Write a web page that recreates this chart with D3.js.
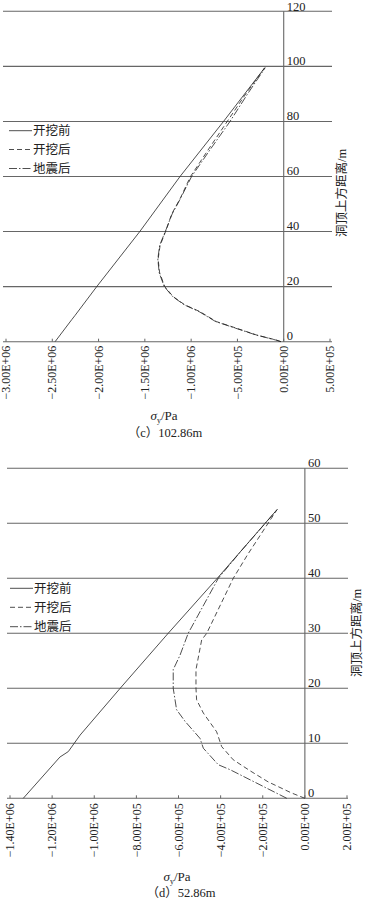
<!DOCTYPE html>
<meta charset="utf-8">
<script src="https://d3js.org/d3.v7.min.js"></script>
<style>
  body { margin: 0; background: #fff; }
  text { font-family: "Liberation Serif", "Noto Sans CJK SC", serif; fill: #222; }
</style>
<div id="my_dataviz"></div>
<script>

// ---- data: [depth above crown (m), sigma_y (Pa)] ----

// (c) 102.86m
var c_before = [[0,-2.47e6],[8,-2.29e6],[9.5,-2.255e6],[20,-2.02e6],[40,-1.555e6],[60,-1.12e6],[80,-6.5e5],[99.5,-2.05e5]]
var c_after = [[0,-3e4],[0.6,-7.9e4],[2.45,-2.95e5],[4.9,-5.1e5],[7.3,-7.27e5],[10.95,-9.07e5],[13.4,-1.069e6],[16.4,-1.195e6],
  [20,-1.285e6],[25,-1.34e6],[30,-1.357e6],[35,-1.335e6],[40.8,-1.267e6],[46.4,-1.21e6],[51.7,-1.123e6],[60,-1.007e6],
  [70,-8.1e5],[80,-6.1e5],[90,-4.1e5],[99.5,-2.05e5]]
var c_quake = [[0,-3e4],[0.6,-8.5e4],[2.45,-3.0e5],[4.9,-5.2e5],[7.3,-7.35e5],[10.95,-9.15e5],[13.4,-1.075e6],[16.4,-1.2e6],
  [20,-1.29e6],[25,-1.345e6],[30,-1.36e6],[35,-1.34e6],[40.8,-1.27e6],[46.4,-1.205e6],[51.7,-1.12e6],[60,-9.95e5],
  [70,-7.9e5],[80,-5.8e5],[90,-3.9e5],[99.5,-2.0e5]]
var c_xTicks = [-3e6,-2.5e6,-2e6,-1.5e6,-1e6,-5e5,0,5e5]
var c_yTicks = [0,20,40,60,80,100,120]

// (d) 52.86m
var d_before = [[0,-1.337e6],[7.5,-1.163e6],[8.5,-1.123e6],[11.5,-1.067e6],[20,-8.77e5],[30,-6.49e5],[40,-4.16e5],[52.5,-1.32e5]]
var d_after = [[0,0],[1,-6.5e4],[3,-1.75e5],[5,-2.6e5],[7,-3.4e5],[9.4,-3.95e5],[12.1,-4.19e5],[15.5,-4.82e5],[17.9,-5.14e5],
  [20,-5.17e5],[23.4,-5.17e5],[28.8,-4.9e5],[30,-4.66e5],[40,-3.4e5],[44.3,-2.72e5],[52.5,-1.32e5]]
var d_quake = [[0,-8.6e4],[5.2,-3.55e5],[6.1,-4.11e5],[9.1,-4.82e5],[10.9,-4.98e5],[14,-5.69e5],[16.1,-6.09e5],[20,-6.25e5],
  [23.4,-6.25e5],[26,-5.93e5],[30,-5.54e5],[40,-4.11e5],[45,-3.02e5],[52.5,-1.31e5]]
var d_xTicks = [-1.4e6,-1.2e6,-1e6,-8e5,-6e5,-4e5,-2e5,0,2e5]
var d_yTicks = [0,10,20,30,40,50,60]

var legendNames = ["开挖前", "开挖后", "地震后"]
var dashes = [null, "5,3", "8,2,1.5,2"]

var svg = d3.select("#my_dataviz")
  .append("svg")
  .attr("width", 365)
  .attr("height", 900)

// Excel style label: −3.00E+06
function sci(v) {
  if (v == 0) return "0.00E+00"
  var e = Math.floor(Math.log10(Math.abs(v)))
  var m = v / Math.pow(10, e)
  var s = Math.abs(m).toFixed(2) + "E+" + (e < 10 ? "0" + e : e)
  return (v < 0 ? "\u2212" : "") + s
}

function panel(opt) {
  var g = svg.append("g")
  var x = d3.scaleLinear().domain(opt.xDomain).range(opt.xRange)
  var y = d3.scaleLinear().domain(opt.yDomain).range(opt.yRange)
  var x0 = x(0)

  // horizontal grid lines
  g.selectAll("grid")
    .data(opt.yTicks)
    .enter()
    .append("line")
      .attr("x1", opt.gridX[0]).attr("x2", opt.gridX[1])
      .attr("y1", function(d){ return y(d) }).attr("y2", function(d){ return y(d) })
      .attr("stroke", "#666").attr("stroke-width", 1.1)

  // vertical axis at x=0
  g.append("line")
    .attr("x1", x0).attr("x2", x0)
    .attr("y1", y(opt.yDomain[0])).attr("y2", y(opt.yDomain[1]))
    .attr("stroke", "#666").attr("stroke-width", 1.1)

  // y tick labels right of the axis
  g.selectAll("ylab")
    .data(opt.yTicks)
    .enter()
    .append("text")
      .attr("x", x0 + 3)
      .attr("y", function(d){ return Math.max(y(d) - 1.5, 11) })
      .attr("font-size", "12.5px")
      .text(function(d){ return d })

  // x ticks (small marks pointing up)
  var axisY = y(0)
  g.selectAll("xtick")
    .data(opt.xTicks)
    .enter()
    .append("line")
      .attr("x1", function(d){ return x(d) }).attr("x2", function(d){ return x(d) })
      .attr("y1", axisY).attr("y2", axisY - 3)
      .attr("stroke", "#666").attr("stroke-width", 1)

  g.selectAll("xlab")
    .data(opt.xTicks)
    .enter()
    .append("text")
      .attr("transform", function(d){ return "translate(" + x(d) + "," + (axisY + opt.labelGap) + ") rotate(-90)" })
      .attr("text-anchor", "end")
      .attr("dy", "0.35em")
      .attr("font-size", "12px")
      .text(sci)

  // curves
  var line = d3.line()
    .x(function(d){ return x(d[1]) })
    .y(function(d){ return y(d[0]) })
  opt.series.forEach(function(s, i) {
    g.append("path")
      .datum(s)
      .attr("fill", "none")
      .attr("stroke", "#222")
      .attr("stroke-width", 0.8)
      .attr("stroke-dasharray", dashes[i])
      .attr("d", line)
  })

  // legend
  legendNames.forEach(function(name, i) {
    var ly = opt.legendY[i]
    g.append("line")
      .attr("x1", opt.legendX).attr("x2", opt.legendX + 23)
      .attr("y1", ly).attr("y2", ly)
      .attr("stroke", "#222").attr("stroke-width", 0.8)
      .attr("stroke-dasharray", dashes[i])
    g.append("text")
      .attr("x", opt.legendX + 24)
      .attr("y", ly + 4.5)
      .attr("font-size", "12.5px")
      .text(name)
  })

  // y title
  g.append("text")
    .attr("transform", "translate(" + opt.yTitle[0] + "," + opt.yTitle[1] + ") rotate(-90)")
    .attr("text-anchor", "middle")
    .attr("dy", "0.35em")
    .attr("font-size", "12.5px")
    .text("洞顶上方距离/m")

  // x title
  var xt = g.append("text")
    .attr("x", opt.xTitle[0]).attr("y", opt.xTitle[1])
    .attr("text-anchor", "middle")
    .attr("font-size", "13px")
  xt.append("tspan").attr("font-style", "italic").text("σ")
  xt.append("tspan").attr("font-size", "8px").attr("dy", "3").text("y")
  xt.append("tspan").attr("dy", "-3").text("/Pa")

  // caption
  g.append("text")
    .attr("x", opt.caption[0]).attr("y", opt.caption[1])
    .attr("text-anchor", "middle")
    .attr("font-size", "12.5px")
    .text(opt.captionText)
}

panel({
  xDomain: [-3e6, 5e5], xRange: [6, 330],
  yDomain: [0, 120], yRange: [341.7, 11.3],
  gridX: [3, 332],
  xTicks: c_xTicks, yTicks: c_yTicks,
  labelGap: 4,
  series: [c_before, c_after, c_quake],
  legendX: 9, legendY: [130.7, 149.5, 168.5],
  yTitle: [342, 193],
  xTitle: [164, 420],
  caption: [165, 437], captionText: "（c）102.86m"
})

panel({
  xDomain: [-1.4e6, 2e5], xRange: [10, 347],
  yDomain: [0, 60], yRange: [798.3, 468.3],
  gridX: [7, 348],
  xTicks: d_xTicks, yTicks: d_yTicks,
  labelGap: 5,
  series: [d_before, d_after, d_quake],
  legendX: 10, legendY: [588.3, 607.3, 626.7],
  yTitle: [356.5, 633],
  xTitle: [177, 881],
  caption: [181, 897], captionText: "（d）52.86m"
})

</script>
